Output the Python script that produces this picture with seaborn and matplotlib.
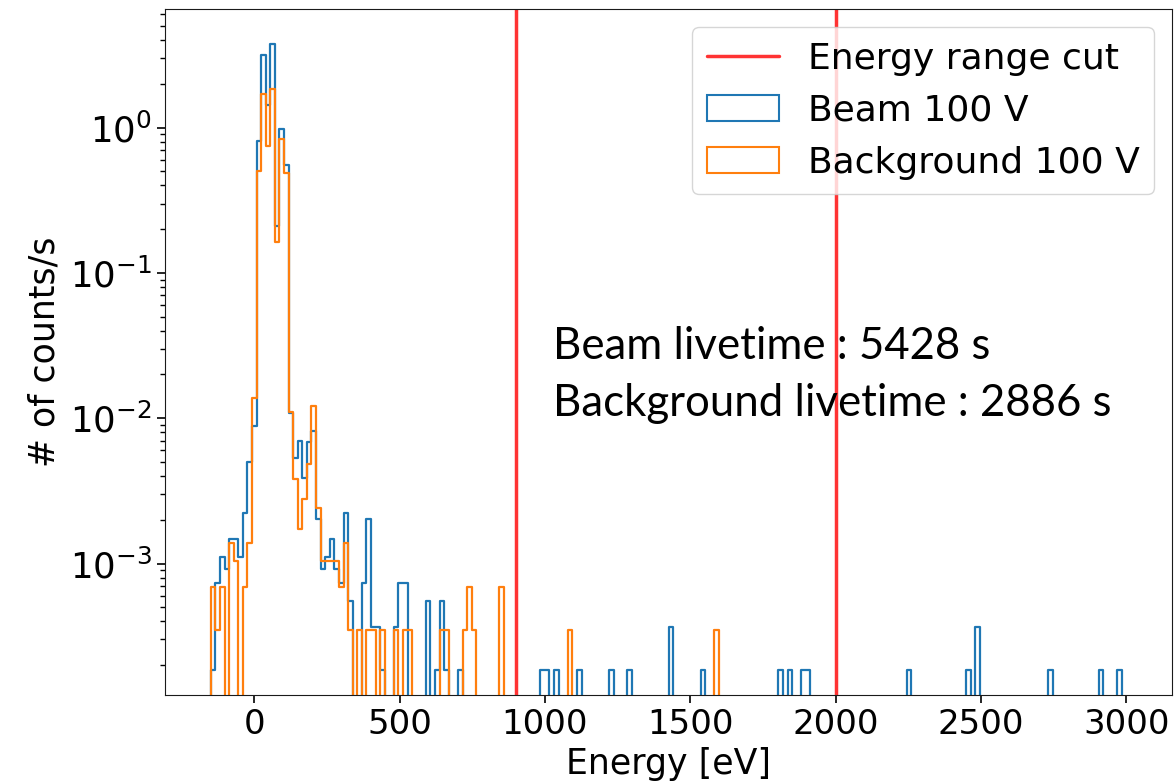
import numpy as np
import pandas as pd
import matplotlib
matplotlib.use("Agg")
import matplotlib.pyplot as plt
import seaborn as sns
from matplotlib.patches import Patch
from matplotlib.lines import Line2D

# ---------------- data ----------------
energy_min, energy_max, n_bins = -150.0, 3000.0, 200

beam_bins = [0, 1, 2, 3, 4, 5, 6, 7, 8, 9,
             10, 11, 12, 13, 14, 15, 16,
             17, 18, 19, 20, 21, 22, 23, 24, 25, 26, 27, 28, 29, 30,
             33, 34, 35, 36, 37, 40, 41, 42, 47, 49, 50, 51, 54,
             72, 73, 75, 80, 87, 91, 100, 107, 124, 126, 129, 130,
             152, 165, 167, 183, 194, 198]
beam_counts = [1, 4, 6, 5, 8, 8, 6, 12, 27, 48,
               4370, 17250, 7800, 20420, 1147, 5333, 3017,
               59, 29, 38, 21, 37, 44, 11, 5, 6, 8, 5, 4, 12, 3,
               4, 11, 2, 2, 1, 2, 4, 4, 3, 1, 3, 1, 1,
               1, 1, 1, 1, 1, 1, 2, 1, 1, 1, 1, 1,
               1, 1, 2, 1, 1, 1]

bg_bins = [0, 1, 2, 4, 5, 7, 8, 9,
           10, 11, 12, 13, 14, 15, 16,
           17, 18, 19, 20, 21, 22, 23, 24, 25, 26, 27, 28, 29, 30,
           32, 34, 35, 37, 40, 42, 43, 50, 51, 55, 56, 57, 63, 78, 110]
bg_counts = [2, 1, 2, 4, 3, 2, 4, 40,
             1451, 4914, 2146, 5322, 471, 2409, 1397,
             32, 11, 5, 8, 14, 35, 7, 3, 3, 3, 3, 2, 4, 1,
             1, 1, 1, 1, 1, 1, 1, 1, 1, 1, 2, 1, 2, 1, 1]

beam_livetime = 5428
bg_livetime = 2886
cut_energies = [900, 2000]

x_ticks = [0, 500, 1000, 1500, 2000, 2500, 3000]
labels = ["Energy range cut", "Beam 100 V", "Background 100 V"]

# ---------------- style ----------------
sns.set_style("ticks")
plt.rcParams["font.family"] = ["DejaVu Sans"]
plt.rcParams["axes.edgecolor"] = "#1a1a1a"
plt.rcParams["text.color"] = "black"
plt.rcParams["axes.labelcolor"] = "black"
plt.rcParams["xtick.color"] = "black"
plt.rcParams["ytick.color"] = "black"

W, H = 1175, 784
fig = plt.figure(figsize=(W / 100, H / 100), dpi=100)
ax = fig.add_axes([165 / W, 1 - 695 / H, (1172 - 165) / W, (695 - 9) / H])

edges = np.linspace(energy_min, energy_max, n_bins + 1)
width = edges[1] - edges[0]
centers = 0.5 * (edges[:-1] + edges[1:])
plot_edges = [float(v) for v in np.concatenate([[edges[0] - width], edges])]

blue = "#1f77b4"
orange = "#ff7f0e"

df_beam = pd.DataFrame({"energy": centers[beam_bins],
                        "rate": np.array(beam_counts) / beam_livetime})
df_bg = pd.DataFrame({"energy": centers[bg_bins],
                      "rate": np.array(bg_counts) / bg_livetime})

sns.histplot(data=df_beam, x="energy", weights="rate", bins=plot_edges,
             element="step", fill=False, color=blue, linewidth=1.6, ax=ax)
sns.histplot(data=df_bg, x="energy", weights="rate", bins=plot_edges,
             element="step", fill=False, color=orange, linewidth=1.6, ax=ax)

for e in cut_energies:
    ax.axvline(e, color="red", alpha=0.8, linewidth=2.5)

ax.set_yscale("log")
ax.set_ylim(1.245e-4, 6.54)
ax.set_xlim(-307.5, 3157.5)
ax.set_xticks(x_ticks)

ax.set_xlabel("Energy [eV]", fontsize=25, labelpad=4)
ax.set_ylabel("# of counts/s", fontsize=25, labelpad=6)
ax.tick_params(axis="x", which="major", labelsize=24.5, length=6, width=1.2)
ax.tick_params(axis="y", which="major", labelsize=25.5, length=6, width=1.2)
ax.tick_params(axis="y", which="minor", length=3.5, width=1)

handles = [Line2D([], [], color="red", alpha=0.8, linewidth=2.5),
           Patch(facecolor="none", edgecolor=blue, linewidth=1.5),
           Patch(facecolor="none", edgecolor=orange, linewidth=1.5)]
ax.legend(handles, labels, loc="upper right", fontsize=26, framealpha=0.8,
          handlelength=2.0, borderaxespad=0.5)

fig.text(553 / W, 1 - 347 / H, f"Beam livetime : {beam_livetime} s",
         fontsize=31.5, family=["Lato", "DejaVu Sans"], va="center", ha="left",
         color="black")
fig.text(553 / W, 1 - 403 / H, f"Background livetime : {bg_livetime} s",
         fontsize=31.5, family=["Lato", "DejaVu Sans"], va="center", ha="left",
         color="black")

fig.savefig("out.png", dpi=100)
